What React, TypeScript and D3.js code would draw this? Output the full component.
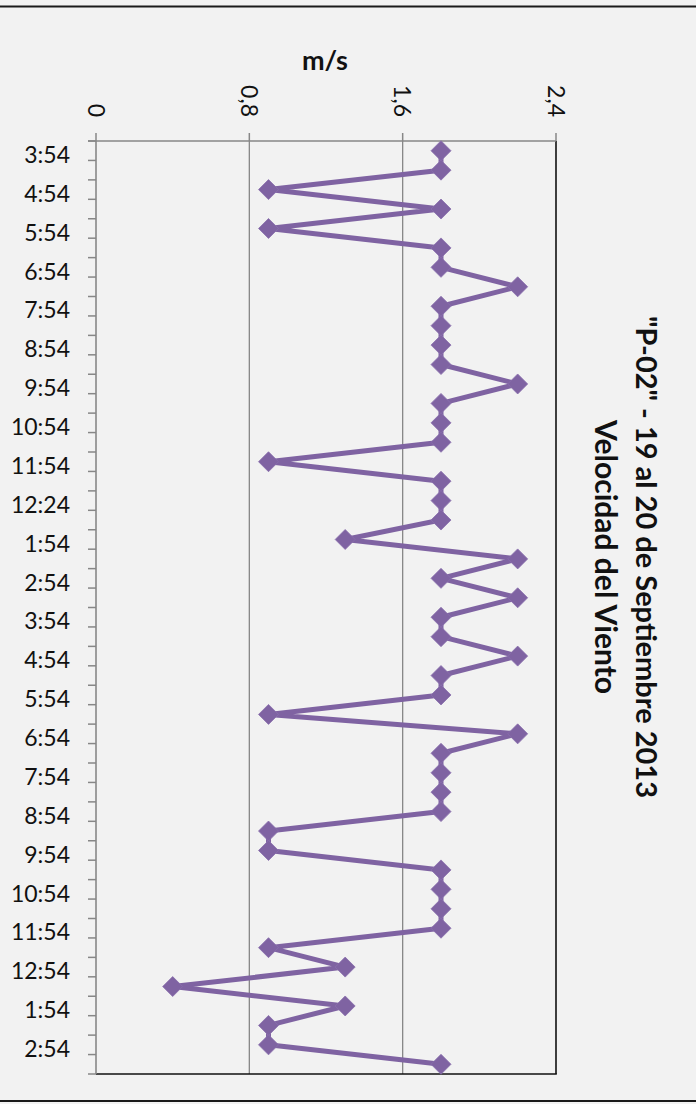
import React from "react";
import * as d3 from "d3";

// Wind speed (m/s), one value per half-hour reading
const speeds: number[] = [
  1.8, 1.8, 0.9, 1.8, 0.9, 1.8, 1.8, 2.2, 1.8, 1.8,
  1.8, 1.8, 2.2, 1.8, 1.8, 1.8, 0.9, 1.8, 1.8, 1.8,
  1.3, 2.2, 1.8, 2.2, 1.8, 1.8, 2.2, 1.8, 1.8, 0.9,
  2.2, 1.8, 1.8, 1.8, 1.8, 0.9, 0.9, 1.8, 1.8, 1.8,
  1.8, 0.9, 1.3, 0.4, 1.3, 0.9, 0.9, 1.8,
];

// Labels shown on every second category
const timeLabels: string[] = [
  "3:54", "4:54", "5:54", "6:54", "7:54", "8:54", "9:54", "10:54", "11:54", "12:24",
  "1:54", "2:54", "3:54", "4:54", "5:54", "6:54", "7:54", "8:54", "9:54", "10:54",
  "11:54", "12:54", "1:54", "2:54",
];

const valueTicks: number[] = [0, 0.8, 1.6, 2.4];
const titleLines: string[] = ['"P-02" - 19 al 20 de Septiembre 2013', "Velocidad del Viento"];
const axisTitle = "m/s";

const W = 696;
const H = 1104;
const FONT = "Lato, 'Open Sans', sans-serif";
const PURPLE = "#7f63a2";
const GRID = "#878787";

export default function App() {
  const categories = speeds.map((_, i) => i);
  const x = d3.scaleLinear().domain([0, 2.4]).range([96, 556]);
  const y = d3.scaleBand<number>().domain(categories).range([141, 1074]).paddingInner(0).paddingOuter(0);
  const cy = (i: number) => (y(i) as number) + y.bandwidth() / 2;

  const line = d3
    .line<number>()
    .x((d) => x(d))
    .y((_, i) => cy(i));

  const diamond = (px: number, py: number, r: number) =>
    `M${px},${py - r}L${px + r},${py}L${px},${py + r}L${px - r},${py}Z`;

  const fmt = (v: number) => d3.format(".1~f")(v).replace(".", ",");

  const boundaries = d3.range(categories.length + 1).map((k) => 141 + k * y.step());
  const [x0, x1] = x.range();
  const [y0, y1] = y.range();
  const labelSize = 23;

  return (
    <svg
      width={W}
      height={H}
      style={{ position: "absolute", left: 0, top: 0, display: "block" }}
      fontFamily={FONT}
    >
      <rect x={0} y={0} width={W} height={H} fill="#f2f2f2" />
      <line x1={0} x2={W} y1={6.5} y2={6.5} stroke="#1a1a1a" strokeWidth={2} />
      <line x1={0} x2={W} y1={1101} y2={1101} stroke="#1a1a1a" strokeWidth={2} />

      {/* gridlines */}
      {valueTicks
        .filter((v) => v > 0 && v < 2.4)
        .map((v) => (
          <line key={"g" + v} x1={x(v)} x2={x(v)} y1={y0} y2={y1} stroke={GRID} strokeWidth={1.3} />
        ))}

      {/* plot border (right & bottom) */}
      <line x1={x1} x2={x1} y1={y0} y2={y1} stroke="#111" strokeWidth={1.6} />
      <line x1={x0} x2={x1 + 0.8} y1={y1} y2={y1} stroke="#111" strokeWidth={1.6} />

      {/* top value axis */}
      <line x1={x0 - 8} x2={x1} y1={y0} y2={y0} stroke={GRID} strokeWidth={1.6} />
      {valueTicks.map((v) => (
        <g key={"t" + v}>
          <line x1={x(v)} x2={x(v)} y1={y0 - 8} y2={y0} stroke={GRID} strokeWidth={1.5} />
          <text
            transform={`translate(${x(v) - labelSize * 0.36},117) rotate(90)`}
            textAnchor="end"
            fontSize={labelSize}
            fill="#111"
          >
            {fmt(v)}
          </text>
        </g>
      ))}
      <text x={325} y={70} textAnchor="middle" fontSize={27} fontWeight="bold" fill="#111">
        {axisTitle}
      </text>

      {/* left category axis */}
      <line x1={x0} x2={x0} y1={y0} y2={y1} stroke={GRID} strokeWidth={1.6} />
      {boundaries.map((b, k) => (
        <line key={"b" + k} x1={x0 - 8} x2={x0} y1={b} y2={b} stroke={GRID} strokeWidth={1.5} />
      ))}
      {timeLabels.map((t, i) => (
        <text
          key={"l" + i}
          x={70}
          y={cy(i * 2) + 4 + labelSize * 0.36}
          textAnchor="end"
          fontSize={labelSize}
          fill="#111"
        >
          {t}
        </text>
      ))}

      {/* series */}
      <path d={line(speeds) || ""} fill="none" stroke={PURPLE} strokeWidth={5} strokeLinejoin="miter" />
      {speeds.map((v, i) => (
        <path key={"m" + i} d={diamond(x(v), cy(i), 10)} fill={PURPLE} stroke="#8a70ad" strokeWidth={0.8} />
      ))}

      {/* title */}
      {titleLines.map((t, i) => (
        <text
          key={"tt" + i}
          transform={`translate(${i === 0 ? 636 : 595},557) rotate(90)`}
          textAnchor="middle"
          fontSize={i === 0 ? 29 : 30}
          fontWeight="bold"
          fill="#111"
        >
          {t}
        </text>
      ))}
    </svg>
  );
}
